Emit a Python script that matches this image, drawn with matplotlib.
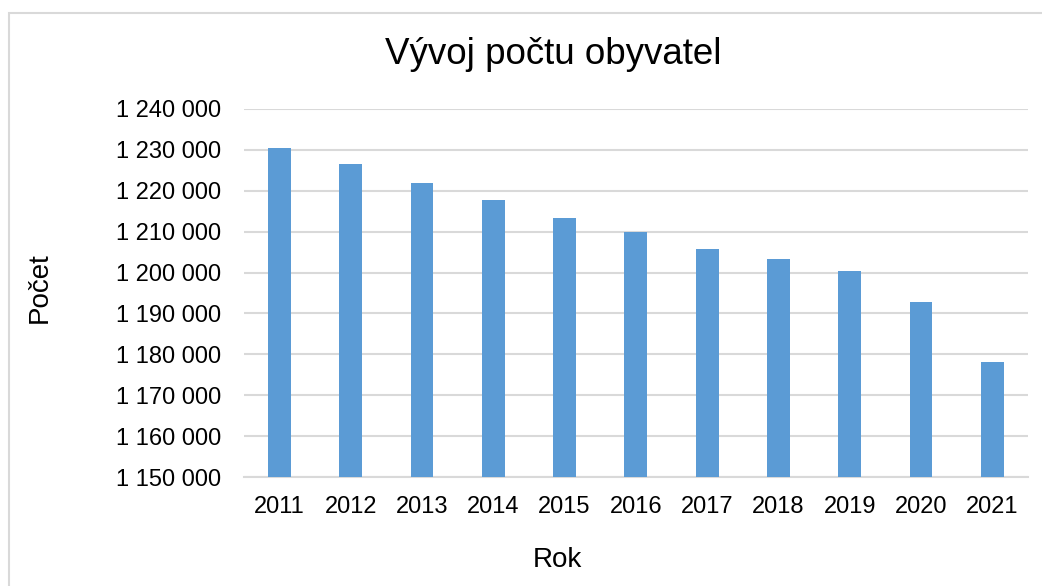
import matplotlib.pyplot as plt
from matplotlib.patches import Rectangle
from matplotlib.ticker import FuncFormatter

years = ['2011', '2012', '2013', '2014', '2015', '2016', '2017', '2018', '2019', '2020', '2021']
population = [1230560, 1226650, 1221800, 1217650, 1213280, 1209800,
              1205870, 1203280, 1200490, 1192860, 1178040]
y_ticks = [1150000, 1160000, 1170000, 1180000, 1190000, 1200000,
           1210000, 1220000, 1230000, 1240000]

plt.rcParams['font.family'] = ['Liberation Sans', 'DejaVu Sans']

fig = plt.figure(figsize=(10.42, 5.86), dpi=100)
ax = fig.add_axes([0.2339, 0.186, 0.7527, 0.628])

# chart area border (right/bottom edges fall outside the picture)
fig.patches.append(Rectangle((8.5 / 1042, -0.1), 1.2, 1 - 13 / 586 + 0.1,
                             transform=fig.transFigure, fill=False,
                             edgecolor='#D9D9D9', linewidth=1.5))

x = range(len(years))
ax.bar(x, population, width=0.32, color='#5B9BD5', zorder=3)

ax.set_xlim(-0.5, len(years) - 0.5)
ax.set_ylim(1150000, 1240000)
ax.set_yticks(y_ticks)
ax.yaxis.set_major_formatter(FuncFormatter(lambda v, p: f'{int(v):,}'.replace(',', ' ')))
ax.set_xticks(list(x))
ax.set_xticklabels(years)

ax.grid(axis='y', color='#D9D9D9', linewidth=1.5, zorder=0)
for side in ['top', 'right', 'left']:
    ax.spines[side].set_visible(False)
ax.spines['bottom'].set_color('#D9D9D9')
ax.spines['bottom'].set_linewidth(1.5)
ax.tick_params(axis='both', length=0, labelsize=17)
ax.tick_params(axis='y', pad=16)
ax.tick_params(axis='x', pad=14)

fig.text(0.531, 1 - 55 / 586, 'Vývoj počtu obyvatel', ha='center', va='center', fontsize=26.5)
fig.text(0.5345, 1 - 560 / 586, 'Rok', ha='center', va='center', fontsize=20)
fig.text(40 / 1042, 1 - 288 / 586, 'Počet', ha='center', va='center', rotation=90, fontsize=20)

fig.savefig('out.png', dpi=100)
